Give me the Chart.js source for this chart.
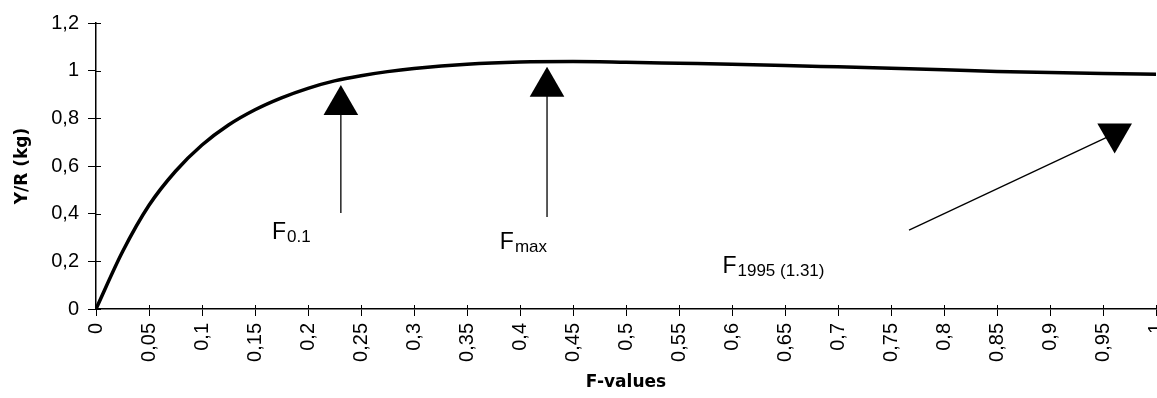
<!DOCTYPE html>
<html>
<head>
<meta charset="utf-8">
<script src="https://cdn.jsdelivr.net/npm/chart.js@4.4.1/dist/chart.umd.min.js"></script>
<style>
  html, body { margin: 0; padding: 0; background: #ffffff; }
  #wrap { width: 1157px; height: 398px; }
</style>
</head>
<body>
<div id="wrap"><canvas id="c" width="1157" height="398"></canvas></div>
<script>
// ---- data ----
const fValues  = [0, 0.025, 0.05, 0.075, 0.1, 0.125, 0.15, 0.175, 0.2, 0.225, 0.25, 0.275, 0.3, 0.35, 0.4, 0.45, 0.5, 0.55, 0.6, 0.65, 0.7, 0.75, 0.8, 0.85, 0.9, 0.95, 1.0];
const yrValues = [0, 0.24, 0.435, 0.578, 0.688, 0.772, 0.836, 0.886, 0.926, 0.957, 0.979, 0.996, 1.009, 1.027, 1.036, 1.038, 1.035, 1.031, 1.027, 1.022, 1.016, 1.01, 1.004, 0.997, 0.992, 0.988, 0.985];

const xTickLabels = ['0','0,05','0,1','0,15','0,2','0,25','0,3','0,35','0,4','0,45','0,5','0,55','0,6','0,65','0,7','0,75','0,8','0,85','0,9','0,95','1'];
const yTickLabels = ['0','0,2','0,4','0,6','0,8','1','1,2'];

// reference points (arrows): tail and head in data units
const refSubscripts = ['0.1', 'max', '1995 (1.31)'];
const refTailX = [0.231, 0.4255, 0.767];
const refTailY = [0.403, 0.386, 0.331];
const refHeadX = [0.231, 0.4255, 0.961];
const refHeadY = [0.856, 0.932, 0.736];
const refHeadRotation = [0, 0, 180];
const refLabelX = [0.166, 0.381, 0.591];
const refLabelY = [0.294, 0.252, 0.151];

const xTitle = 'F-values';
const yTitle = 'Y/R (kg)';

// ---- build datasets ----
const curve = fValues.map((f, i) => ({ x: f, y: yrValues[i] }));
const arrowSets = refTailX.map((tx, i) => ({
  type: 'line',
  data: [{ x: tx, y: refTailY[i] }, { x: refHeadX[i], y: refHeadY[i] }],
  borderColor: '#000',
  borderWidth: 1.3,
  pointRadius: 0,
  tension: 0,
  order: 2
}));
const heads = {
  type: 'scatter',
  data: refHeadX.map((x, i) => ({ x: x, y: refHeadY[i] })),
  pointStyle: 'triangle',
  pointRadius: 20,
  pointRotation: refHeadRotation,
  backgroundColor: '#000',
  borderColor: '#000',
  borderWidth: 0,
  order: 1
};

const innerTicks = {
  id: 'innerTicks',
  afterDraw(chart) {
    const ctx = chart.ctx, xs = chart.scales.x, ys = chart.scales.y;
    const a = chart.chartArea;
    ctx.save();
    ctx.strokeStyle = '#000';
    ctx.lineWidth = 1;
    xs.ticks.forEach(t => {
      const px = Math.round(xs.getPixelForValue(t.value)) + 0.5;
      ctx.beginPath(); ctx.moveTo(px, a.bottom); ctx.lineTo(px, a.bottom - 4); ctx.stroke();
    });
    ys.ticks.forEach(t => {
      const py = Math.round(ys.getPixelForValue(t.value)) + 0.5;
      ctx.beginPath(); ctx.moveTo(a.left, py); ctx.lineTo(a.left + 5, py); ctx.stroke();
    });
    ctx.restore();
  }
};

const refLabels = {
  id: 'refLabels',
  afterDatasetsDraw(chart) {
    const ctx = chart.ctx, xs = chart.scales.x, ys = chart.scales.y;
    ctx.save();
    ctx.fillStyle = '#000';
    ctx.textBaseline = 'alphabetic';
    ctx.textAlign = 'left';
    refSubscripts.forEach((sub, i) => {
      const px = xs.getPixelForValue(refLabelX[i]);
      const py = ys.getPixelForValue(refLabelY[i]);
      ctx.font = '23px "Liberation Sans", Arial, sans-serif';
      ctx.fillText('F', px, py);
      const w = ctx.measureText('F').width;
      ctx.font = '17px "Liberation Sans", Arial, sans-serif';
      ctx.fillText(sub, px + w + 1, py + 3);
    });
    ctx.restore();
  }
};

new Chart(document.getElementById('c'), {
  type: 'line',
  data: {
    datasets: [
      {
        data: curve,
        borderColor: '#000',
        borderWidth: 3.5,
        pointRadius: 0,
        cubicInterpolationMode: 'monotone',
        fill: false,
        order: 0
      },
      ...arrowSets,
      heads
    ]
  },
  options: {
    responsive: false,
    animation: false,
    devicePixelRatio: 1,
    layout: { autoPadding: false, padding: { top: 23, right: 1, bottom: 0, left: 0 } },
    plugins: { legend: { display: false }, tooltip: { enabled: false } },
    scales: {
      x: {
        type: 'linear',
        min: 0, max: 1,
        afterFit(s) { s.height = 89; s.paddingLeft = 0; s.paddingRight = 0; },
        ticks: {
          stepSize: 0.05,
          autoSkip: false,
          minRotation: 90, maxRotation: 90,
          padding: 7,
          color: '#000',
          font: { family: '"Liberation Sans", Arial, sans-serif', size: 20 },
          callback: (v, i) => xTickLabels[i]
        },
        grid: { drawOnChartArea: false, tickLength: 7, color: '#000', lineWidth: 1 },
        border: { display: true, color: '#000', width: 1.5 },
        title: {
          display: true, text: xTitle, color: '#000',
          font: { family: '"DejaVu Sans", sans-serif', size: 17, weight: 'bold' },
          padding: { top: 0, bottom: 5 }
        }
      },
      y: {
        type: 'linear',
        min: 0, max: 1.2,
        afterFit(s) { s.width = 96; s.paddingTop = 0; s.paddingBottom = 0; },
        ticks: {
          stepSize: 0.2,
          padding: 9,
          color: '#000',
          font: { family: '"Liberation Sans", Arial, sans-serif', size: 20 },
          callback: (v, i) => yTickLabels[i]
        },
        grid: { drawOnChartArea: false, tickLength: 8, color: '#000', lineWidth: 1 },
        border: { display: true, color: '#000', width: 1.5 },
        title: {
          display: true, text: yTitle, color: '#000',
          font: { family: '"DejaVu Sans", sans-serif', size: 17, weight: 'bold' },
          padding: { top: 12, bottom: 0 }
        }
      }
    }
  },
  plugins: [innerTicks, refLabels]
});
</script>
</body>
</html>
